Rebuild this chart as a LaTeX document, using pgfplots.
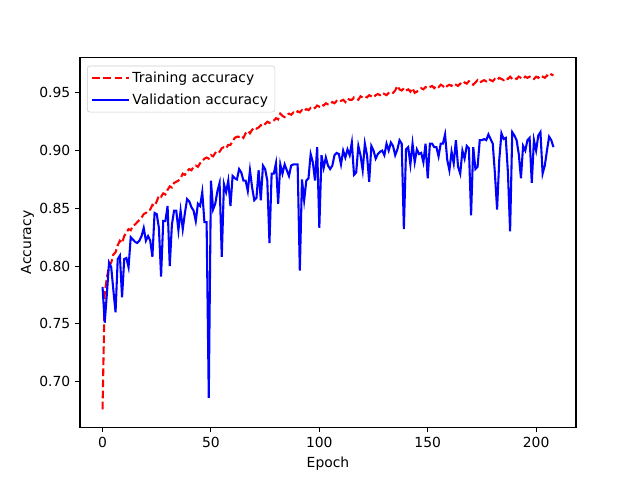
\documentclass[border=0pt]{standalone}
\usepackage{pgfplots}
\pgfplotsset{compat=1.18}
\usepackage{pgfplotstable}
\usepackage{fontspec}
\setmainfont{DejaVu Sans}
\pgfplotstableread{
e t v
0 0.676 0.782
1 0.776 0.751
2 0.790 0.776
3 0.800 0.803
4 0.803 0.799
5 0.810 0.779
6 0.812 0.760
7 0.818 0.806
8 0.822 0.809
9 0.820 0.773
10 0.826 0.806
11 0.829 0.807
12 0.832 0.799
13 0.831 0.825
14 0.835 0.823
15 0.836 0.821
16 0.838 0.820
17 0.840 0.822
18 0.842 0.826
19 0.845 0.833
20 0.846 0.822
21 0.848 0.826
22 0.849 0.822
23 0.853 0.808
24 0.852 0.846
25 0.856 0.845
26 0.861 0.833
27 0.860 0.791
28 0.863 0.839
29 0.862 0.839
30 0.866 0.852
31 0.869 0.800
32 0.868 0.836
33 0.872 0.848
34 0.873 0.848
35 0.874 0.831
36 0.876 0.848
37 0.880 0.832
38 0.879 0.846
39 0.882 0.858
40 0.884 0.856
41 0.883 0.851
42 0.886 0.848
43 0.887 0.839
44 0.886 0.854
45 0.889 0.852
46 0.891 0.864
47 0.893 0.838
48 0.894 0.838
49 0.893 0.686
50 0.896 0.874
51 0.895 0.849
52 0.898 0.854
53 0.900 0.865
54 0.899 0.872
55 0.902 0.808
56 0.903 0.871
57 0.902 0.864
58 0.905 0.874
59 0.905 0.852
60 0.908 0.878
61 0.911 0.876
62 0.912 0.875
63 0.912 0.884
64 0.913 0.881
65 0.911 0.874
66 0.915 0.874
67 0.917 0.865
68 0.915 0.883
69 0.918 0.868
70 0.920 0.857
71 0.919 0.859
72 0.920 0.883
73 0.922 0.857
74 0.921 0.887
75 0.923 0.884
76 0.925 0.874
77 0.924 0.820
78 0.925 0.880
79 0.926 0.880
80 0.928 0.889
81 0.927 0.854
82 0.932 0.888
83 0.930 0.880
84 0.929 0.888
85 0.931 0.883
86 0.932 0.878
87 0.931 0.887
88 0.933 0.888
89 0.932 0.888
90 0.934 0.888
91 0.933 0.796
92 0.935 0.875
93 0.934 0.857
94 0.936 0.874
95 0.935 0.876
96 0.937 0.897
97 0.936 0.890
98 0.937 0.874
99 0.939 0.903
100 0.938 0.833
101 0.940 0.896
102 0.939 0.885
103 0.941 0.894
104 0.940 0.887
105 0.940 0.884
106 0.942 0.887
107 0.941 0.896
108 0.943 0.898
109 0.942 0.897
110 0.943 0.888
111 0.944 0.900
112 0.942 0.894
113 0.945 0.901
114 0.944 0.896
115 0.944 0.907
116 0.946 0.879
117 0.945 0.881
118 0.944 0.904
119 0.947 0.896
120 0.946 0.883
121 0.947 0.906
122 0.946 0.896
123 0.948 0.873
124 0.947 0.904
125 0.946 0.900
126 0.948 0.893
127 0.949 0.897
128 0.948 0.899
129 0.950 0.900
130 0.949 0.896
131 0.948 0.906
132 0.950 0.900
133 0.951 0.907
134 0.950 0.904
135 0.952 0.896
136 0.956 0.901
137 0.953 0.909
138 0.952 0.906
139 0.954 0.832
140 0.952 0.901
141 0.953 0.903
142 0.951 0.888
143 0.954 0.906
144 0.950 0.890
145 0.951 0.901
146 0.953 0.897
147 0.954 0.898
148 0.953 0.890
149 0.955 0.906
150 0.954 0.876
151 0.955 0.906
152 0.956 0.906
153 0.954 0.903
154 0.956 0.903
155 0.955 0.895
156 0.957 0.906
157 0.956 0.906
158 0.954 0.914
159 0.956 0.892
160 0.957 0.883
161 0.956 0.899
162 0.958 0.889
163 0.957 0.909
164 0.956 0.886
165 0.958 0.880
166 0.957 0.900
167 0.959 0.893
168 0.958 0.904
169 0.960 0.902
170 0.958 0.844
171 0.957 0.903
172 0.959 0.884
173 0.961 0.886
174 0.959 0.909
175 0.960 0.909
176 0.961 0.910
177 0.960 0.909
178 0.962 0.914
179 0.961 0.910
180 0.960 0.906
181 0.962 0.880
182 0.961 0.849
183 0.963 0.892
184 0.962 0.915
185 0.961 0.910
186 0.963 0.911
187 0.962 0.881
188 0.964 0.830
189 0.962 0.916
190 0.963 0.913
191 0.962 0.909
192 0.964 0.897
193 0.963 0.876
194 0.962 0.904
195 0.964 0.900
196 0.963 0.909
197 0.964 0.911
198 0.963 0.872
199 0.962 0.909
200 0.964 0.900
201 0.963 0.913
202 0.965 0.916
203 0.964 0.880
204 0.963 0.887
205 0.965 0.900
206 0.964 0.912
207 0.966 0.909
208 0.965 0.903
}\data
\begin{document}
\begin{tikzpicture}
\useasboundingbox (-57.6pt,-38.016pt) rectangle (403.2pt,307.584pt);
\begin{axis}[
  at={(0,0)}, anchor=south west,
  scale only axis, width=357.12pt, height=266.112pt,
  xmin=-10.4, xmax=218.4, ymin=0.6605, ymax=0.9805,
  xtick={0,50,100,150,200},
  ytick={0.70,0.75,0.80,0.85,0.90,0.95},
  yticklabel style={/pgf/number format/.cd, fixed, fixed zerofill, precision=2},
  /pgf/number format/assume math mode=true,
  tick align=outside, major tick length=3.5pt,
  tick style={line width=0.8pt, black},
  axis line style={line width=0.8pt},
  xtick pos=bottom, ytick pos=left,
  tick label style={font=\fontsize{10}{12}\selectfont},
  label style={font=\fontsize{10}{12}\selectfont},
  xlabel={Epoch}, ylabel={Accuracy},
  ylabel style={yshift=-3pt},
  legend style={at={(0.014,0.978)}, anchor=north west,
    draw=black!20, rounded corners=2pt, fill=white, fill opacity=0.8, text opacity=1,
    font=\fontsize{10}{12}\selectfont, row sep=3pt, inner xsep=3pt, inner ysep=2pt},
  legend cell align=left,
  legend image code/.code={\draw[#1] (0pt,0pt) -- (20pt,0pt); \path (0pt,0pt) -- (26pt,0pt);},
]
\addplot[red, line width=1.5pt, dash pattern=on 5.55pt off 2.4pt] table[x=e, y=t] {\data};
\addlegendentry{Training accuracy}
\addplot[blue, line width=1.5pt] table[x=e, y=v] {\data};
\addlegendentry{Validation accuracy}
\end{axis}
\end{tikzpicture}
\end{document}
